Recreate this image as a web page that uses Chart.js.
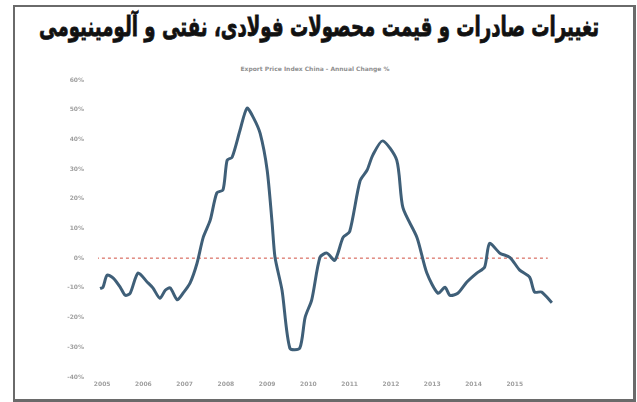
<!DOCTYPE html>
<html>
<head>
<meta charset="utf-8">
<script src="https://cdn.jsdelivr.net/npm/chart.js@4/dist/chart.umd.min.js"></script>
<style>
  html,body{margin:0;padding:0;background:#fff;width:637px;height:402px;overflow:hidden;position:relative;}
  #frame{position:absolute;left:13px;top:5px;width:618px;height:392px;border:2px solid #6a6a6a;border-right-width:3px;border-bottom-width:3px;box-sizing:content-box;}
  #tt{position:absolute;left:0;top:11px;direction:rtl;display:inline-block;
    font-family:"DejaVu Sans";font-weight:bold;font-size:27px;color:#111;white-space:nowrap;
    -webkit-text-stroke:0.8px #111;transform-origin:0 0;}
  #sub{position:absolute;left:0;top:65px;width:630px;text-align:center;font-family:"DejaVu Sans";
    font-weight:bold;font-size:6px;color:#8f8f8f;}
  #c{position:absolute;left:0;top:0;}
</style>
</head>
<body>
<div id="frame"></div>
<span id="tt">تغییرات صادرات و قیمت محصولات فولادی، نفتی و آلومینیومی</span>
<div id="sub">Export Price Index China - Annual Change %</div>
<canvas id="c" width="637" height="402"></canvas>
<script>
// decimal-year positions and annual change (%)
const dates = [2004.95,2005.02,2005.12,2005.27,2005.44,2005.56,2005.68,2005.87,2006.09,2006.23,2006.40,2006.53,2006.65,2006.82,2006.96,2007.13,2007.30,2007.45,2007.62,2007.78,2007.93,2008.03,2008.15,2008.34,2008.51,2008.66,2008.83,2009.00,2009.12,2009.19,2009.36,2009.55,2009.79,2009.92,2010.08,2010.28,2010.45,2010.64,2010.84,2011.00,2011.25,2011.42,2011.56,2011.80,2012.14,2012.29,2012.63,2012.87,2013.14,2013.31,2013.43,2013.62,2013.84,2014.08,2014.27,2014.39,2014.64,2014.88,2015.12,2015.36,2015.48,2015.65,2015.90];
const values = [-10.2,-9.8,-5.7,-6.7,-9.8,-12.5,-11.8,-5,-8,-10,-13.5,-10.8,-10,-14,-11.8,-8.4,-1.7,7,12.8,22,23,33,34,43,50.5,47.5,42,29.6,11.8,0.3,-10.8,-30.3,-30.3,-19.9,-14,0.3,1.7,-0.7,7,9,26,29.6,34.7,39.5,33,17,7,-5,-11.8,-9.8,-12.5,-11.8,-8,-5,-3,5,1.7,0.3,-4,-6.4,-11.4,-11.4,-15];
const yearTicks = [2005,2006,2007,2008,2009,2010,2011,2012,2013,2014,2015];
const zeroLineX = [2004.85, 2015.8];

const tt = document.getElementById('tt');
const w = tt.getBoundingClientRect().width;
const k = 560 / w;
tt.style.left = ((637 - w * k) / 2) + 'px';
tt.style.transform = 'scaleX(' + k + ')';

new Chart(document.getElementById('c'), {
  type: 'line',
  data: {
    datasets: [
      { data: dates.map((d,i)=>({x:d,y:values[i]})), borderColor:'#3f5f78', borderWidth:3,
        pointRadius:0, tension:0.25, order:1 },
      { data: zeroLineX.map(d=>({x:d,y:0})), borderColor:'#e08a80', borderWidth:1.5,
        borderDash:[3,3], pointRadius:0, order:2 }
    ]
  },
  options: {
    responsive:false, animation:false,
    layout:{ padding:{ left:0, right:81, top:80, bottom:0 } },
    plugins:{ legend:{display:false}, tooltip:{enabled:false}, title:{display:false} },
    scales:{
      x:{ type:'linear', min:2004.9, max:2016.0,
          afterBuildTicks: s => { s.ticks = yearTicks.map(v=>({value:v})); },
          afterFit: s => { s.height = 25; },
          grid:{display:false, drawTicks:false}, border:{display:false},
          ticks:{ font:{family:'DejaVu Sans', size:6, weight:'bold'}, color:'#a0a0a0', maxRotation:0, padding:4,
                  callback: v => String(v) } },
      y:{ min:-40, max:60,
          afterFit: s => { s.width = 98; },
          grid:{display:false, drawTicks:false}, border:{display:false},
          ticks:{ stepSize:10, font:{family:'DejaVu Sans', size:6, weight:'bold'}, color:'#a0a0a0', padding:14,
                  callback: v => v + '%' } }
    }
  }
});
</script>
</body>
</html>
